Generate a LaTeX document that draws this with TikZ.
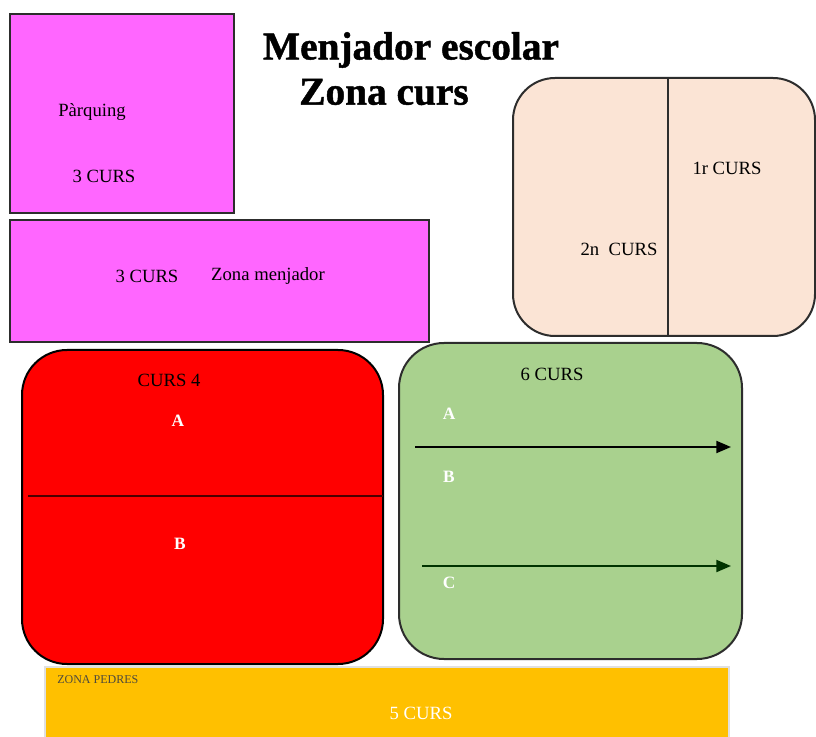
\documentclass[tikz,border=0pt]{standalone}
\usepackage{fontspec}
\setmainfont{Liberation Serif}
\newfontfamily\ttlfont[FakeBold=1.2]{Liberation Serif Bold}
\usetikzlibrary{arrows.meta}
\definecolor{pinkz}{RGB}{255,102,255}
\definecolor{peachz}{RGB}{251,228,213}
\definecolor{redz}{RGB}{255,0,0}
\definecolor{greenz}{RGB}{169,209,142}
\definecolor{yellowz}{RGB}{255,192,0}
\definecolor{edgez}{RGB}{45,45,45}
\tikzset{
  area/.style={draw=edgez, line width=1.5pt},
  lbl/.style={font=\fontsize{14}{16}\selectfont, inner sep=0pt},
  wlbl/.style={font=\fontsize{13}{15}\selectfont\bfseries, text=white, inner sep=0pt},
  ttl/.style={font=\fontsize{29.5}{33}\selectfont\ttlfont, inner sep=0pt},
  arr/.style={line width=1.5pt, -{Triangle[length=11pt,width=9pt]}}
}
\begin{document}
\begin{tikzpicture}[x=0.75pt,y=-0.75pt]
\useasboundingbox (0,0) rectangle (816,737);
\fill[white] (0,0) rectangle (816,737);
% pink boxes
\draw[area, fill=pinkz] (10,14) rectangle (234,213);
\draw[area, fill=pinkz] (10,220) rectangle (429,342);
\node[lbl] (parq) at (92,112) {Pàrquing};
\node[lbl] (c3a) at (104,176) {3 CURS};
\node[lbl] (c3b) at (147,276) {3 CURS};
\node[lbl] (zm) at (268,276) {Zona menjador};
% title
\node[ttl] (t1) at (411,50) {Menjador escolar};
\node[ttl] (t2) at (384,92) {Zona curs};
% peach box
\draw[area, fill=peachz, rounded corners=42pt*0.75] (513,78) rectangle (815,336);
\coordinate (pt) at (668,79);
\coordinate (pb) at (668,335);
\draw[area] (pt) -- (pb);
\node[lbl] (c1) at (727,168) {1r CURS};
\node[lbl] (c2) at (619,249) {2n\ \ CURS};
% red box
\draw[area, draw=black, fill=redz, rounded corners=45pt*0.75] (22,350) rectangle (383,664);
\coordinate (rl) at (28,496);
\coordinate (rr) at (383,496);
\draw[line width=1.5pt, draw=black!70!red] (rl) -- (rr);
\node[lbl] (c4) at (169,380) {CURS 4};
\node[wlbl] (ra) at (178,421) {A};
\node[wlbl] (rb) at (180,544) {B};
% green box
\draw[area, fill=greenz, rounded corners=45pt*0.75] (399,343) rectangle (742,659);
\node[lbl] (c6) at (552,374) {6 CURS};
\node[wlbl] (ga) at (449,414) {A};
\node[wlbl] (gb) at (449,477) {B};
\node[wlbl] (gc) at (449,583) {C};
\coordinate (a1s) at (415,447);
\coordinate (a1e) at (731,447);
\coordinate (a2s) at (422,566);
\coordinate (a2e) at (731,566);
\draw[arr] (a1s) -- (a1e);
\draw[arr, draw=black!80!green] (a2s) -- (a2e);
% yellow box
\draw[line width=1.5pt, draw=black!12, fill=yellowz] (45,667) rectangle (729,745);
\node[font=\fontsize{9}{11}\selectfont, inner sep=0pt, anchor=west, text=black!80!yellow] (zp) at (57,680) {ZONA PEDRES};
\node[font=\fontsize{14}{16}\selectfont, text=white, inner sep=0pt] (c5) at (421,713) {5 CURS};
\end{tikzpicture}
\end{document}
